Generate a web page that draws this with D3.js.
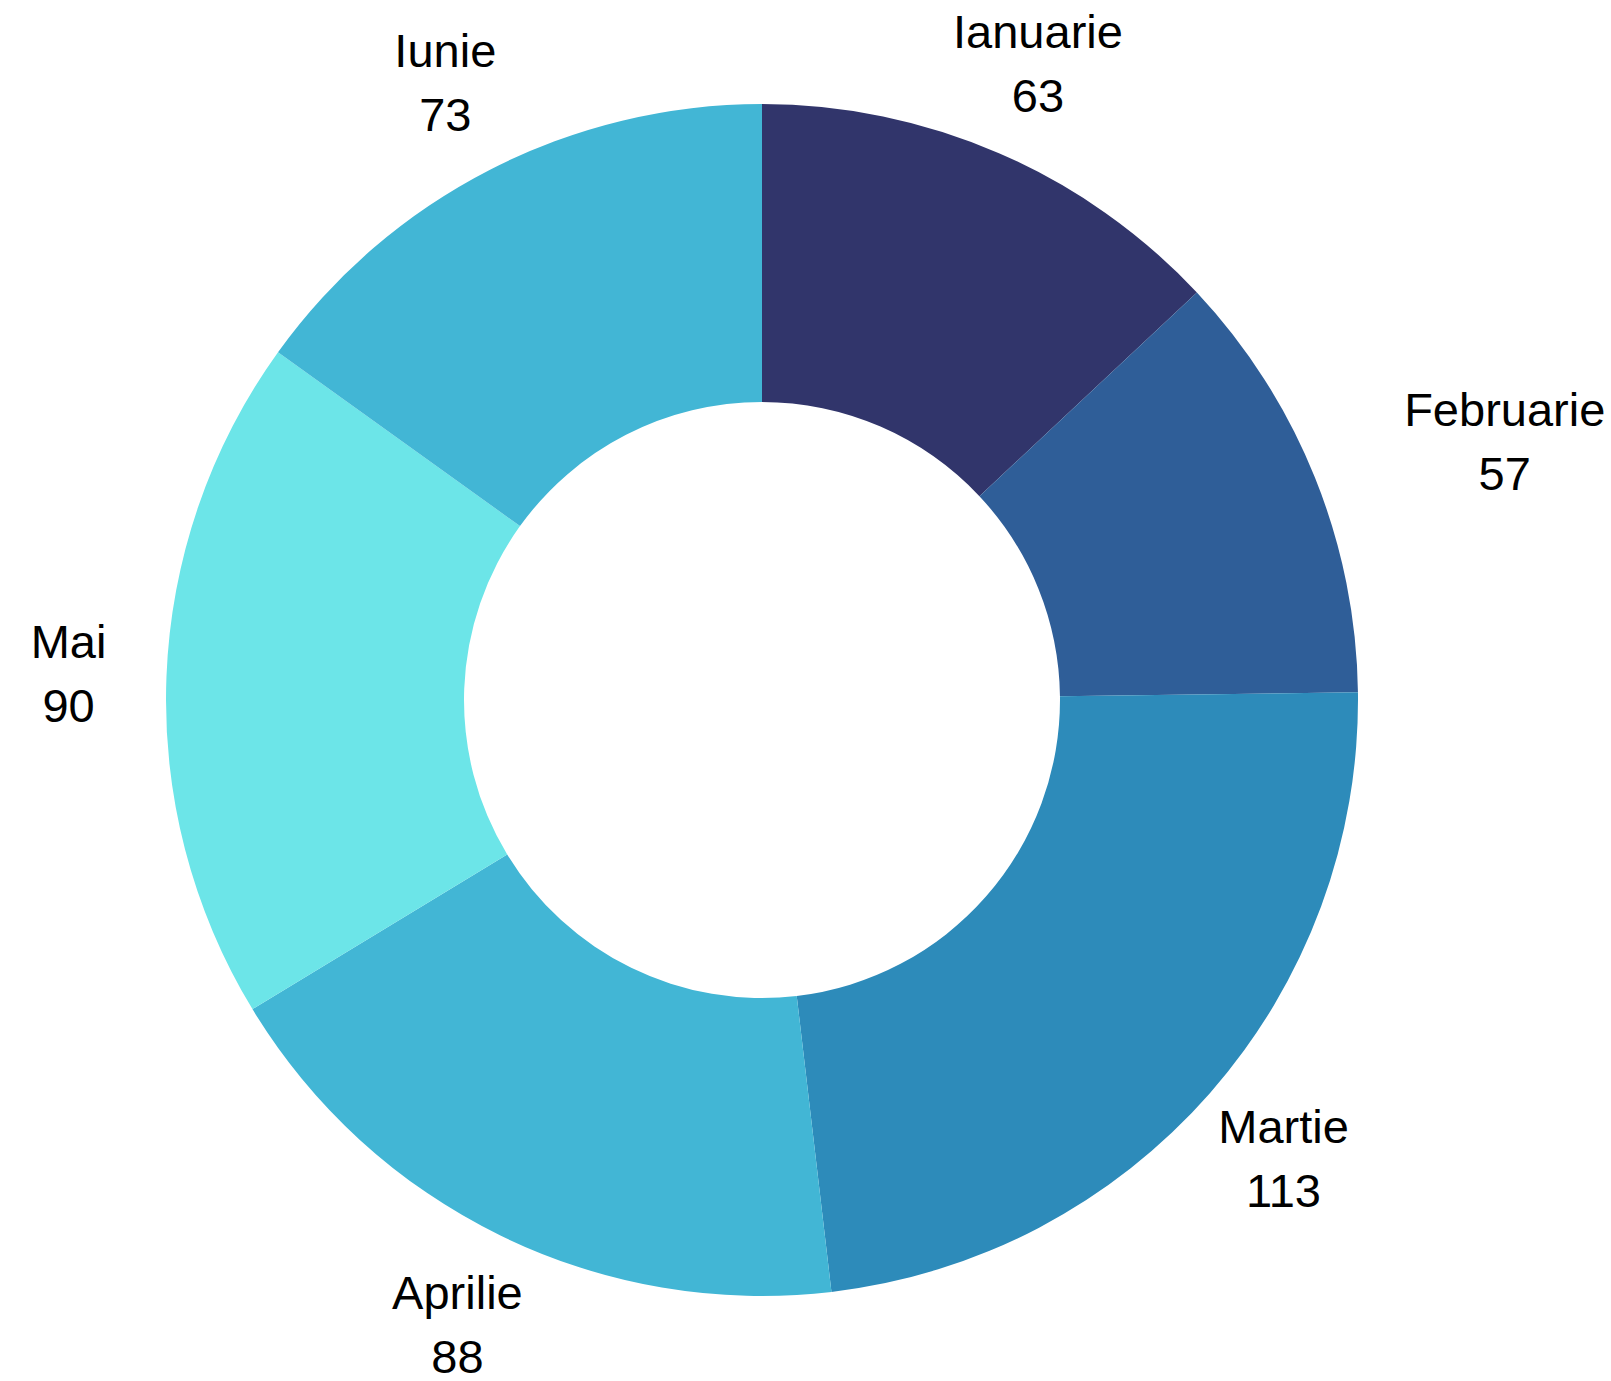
<!DOCTYPE html>
<html>
<head>
<meta charset="utf-8">
<script src="https://cdn.jsdelivr.net/npm/d3@7"></script>
<style>
  html, body { margin: 0; padding: 0; background: #ffffff; }
  svg { display: block; }
</style>
</head>
<body>
<svg id="chart" width="1611" height="1381"></svg>
<script>
// Monthly values shown in the donut
const months = ["Ianuarie", "Februarie", "Martie", "Aprilie", "Mai", "Iunie"];
const values = [63, 57, 113, 88, 90, 73];
const colors = ["#31356b", "#2f5e98", "#2d8bba", "#42b6d5", "#6ce5e8", "#42b6d5"];

const width = 1611, height = 1381;
const cx = 762, cy = 700;
const outerR = 596, innerR = 298;
const labelR = 694;
const fontSize = 47;

const svg = d3.select("#chart");
const g = svg.append("g").attr("transform", `translate(${cx},${cy})`);

const rows = months.map((m, i) => ({ month: m, value: values[i], color: colors[i] }));

const pie = d3.pie().value(d => d.value).sort(null);
const arcs = pie(rows);

const arc = d3.arc().innerRadius(innerR).outerRadius(outerR);
const labelArc = d3.arc().innerRadius(labelR).outerRadius(labelR);

g.selectAll("path.slice")
  .data(arcs)
  .join("path")
  .attr("class", "slice")
  .attr("d", arc)
  .attr("fill", d => d.data.color);

// Labels sit outside the ring; the narrow right-hand label is eased outward
const nudgeX = { "Februarie": 99 };

const labels = g.selectAll("text.label")
  .data(arcs)
  .join("text")
  .attr("class", "label")
  .attr("text-anchor", "middle")
  .attr("font-family", "'Liberation Sans', Arial, sans-serif")
  .attr("font-size", fontSize)
  .attr("fill", "#000000")
  .attr("transform", d => {
    const [x, y] = labelArc.centroid(d);
    return `translate(${x + (nudgeX[d.data.month] || 0)},${y})`;
  });

labels.append("tspan")
  .attr("x", 0)
  .attr("y", -15)
  .text(d => d.data.month);

labels.append("tspan")
  .attr("x", 0)
  .attr("y", 49)
  .text(d => d.data.value);
</script>
</body>
</html>
